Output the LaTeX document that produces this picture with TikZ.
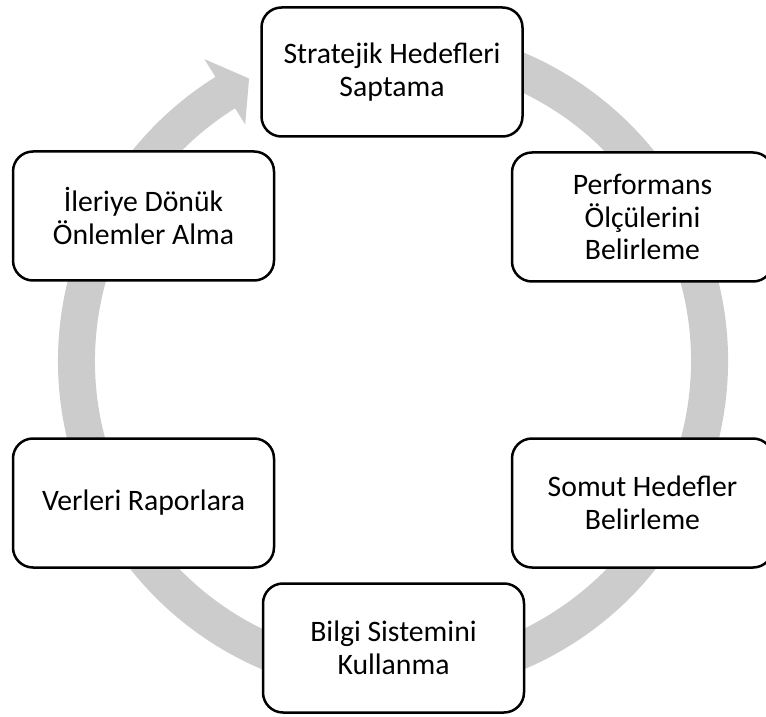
\documentclass[tikz,border=0pt]{standalone}
\usepackage{fontspec}
\setmainfont{Carlito}
\usetikzlibrary{calc}
\begin{document}
\begin{tikzpicture}[x=1pt,y=1pt,
  stage/.style={draw=black, line width=2.5pt, fill=white, rounded corners=20pt,
    minimum width=261pt, minimum height=129pt, align=center,
    font=\fontsize{29.7}{32.5}\selectfont, text=black, inner sep=4pt},
  ringfill/.style={fill=black!20, draw=none}]
\path[use as bounding box] (0,0) rectangle (766,716);
\clip (0,0) rectangle (766,716);

% grey cycle arrow running clockwise round the centre
\coordinate (c) at (393,355);
\fill[ringfill] ($(c)+(112:335)$) arc[start angle=112, end angle=-238, radius=335]
  -- ($(c)+(-238:356)$) -- ($(c)+(-243:317)$) -- ($(c)+(-238:279)$)
  -- ($(c)+(-238:298)$) arc[start angle=-238, end angle=112, radius=298] -- cycle;

% process stages
\node[stage] (s1) at (392,644) {Stratejik Hedefleri\\Saptama};
\node[stage] (s2) at (642.5,499) {Performans\\Ölçülerini\\Belirleme};
\node[stage] (s3) at (642.5,213) {Somut Hedefler\\Belirleme};
\node[stage] (s4) at (393.5,68) {Bilgi Sistemini\\Kullanma};
\node[stage] (s5) at (143.5,213) {Verleri Raporlara};
\node[stage] (s6) at (143.5,500) {İleriye Dönük\\Önlemler Alma};
\end{tikzpicture}
\end{document}
